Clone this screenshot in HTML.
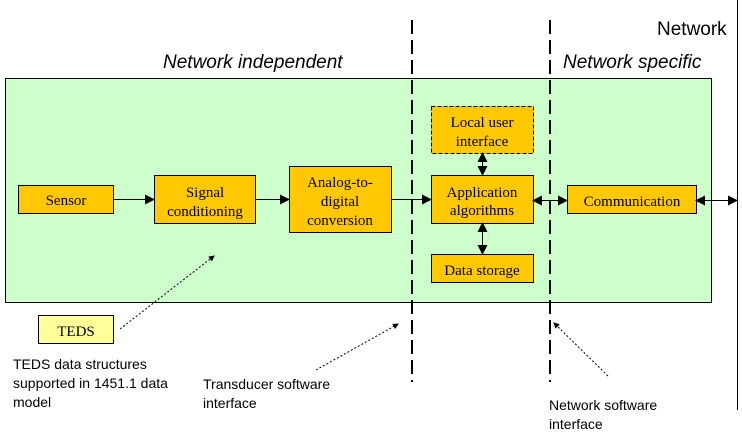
<!DOCTYPE html>
<html><head><style>body{margin:0;background:#fff}svg{display:block}</style></head><body>
<svg width="742" height="432" viewBox="0 0 742 432" xmlns="http://www.w3.org/2000/svg">
<defs>
<marker id="a" markerWidth="10" markerHeight="10" refX="9" refY="5" orient="auto-start-reverse" markerUnits="userSpaceOnUse"><path d="M0,0 L10,5 L0,10 z" fill="#000"/></marker>
<marker id="s" markerWidth="6" markerHeight="6" refX="5" refY="3" orient="auto" markerUnits="userSpaceOnUse"><path d="M0,0 L6,3 L0,6 z" fill="#000"/></marker>
</defs>
<rect x="5.5" y="78.5" width="706" height="224" fill="#ccffcc" stroke="#000"/>
<g font-family="Liberation Sans, sans-serif" font-size="19" fill="#000">
<text x="657" y="35">Network</text>
<text x="163" y="68" font-style="italic">Network independent</text>
<text x="563" y="68" font-style="italic">Network specific</text>
</g>
<g stroke="#000" stroke-width="2" stroke-dasharray="14,6">
<line x1="412" y1="20" x2="412" y2="382"/>
<line x1="550" y1="20" x2="550" y2="382"/>
</g>
<line x1="737.5" y1="0" x2="737.5" y2="410" stroke="#000"/>
<g fill="#ffc800" stroke="#000">
<rect x="18.5" y="185.5" width="95" height="28"/>
<rect x="154.5" y="175.5" width="101" height="48"/>
<rect x="289.5" y="166.5" width="102" height="66"/>
<rect x="431.5" y="106.5" width="102" height="47" stroke-dasharray="4,2"/>
<rect x="431.5" y="175.5" width="102" height="48"/>
<rect x="431.5" y="254.5" width="102" height="28"/>
<rect x="567.5" y="185.5" width="129" height="28"/>
</g>
<rect x="38.5" y="315.5" width="75" height="28" fill="#ffff99" stroke="#000"/>
<g stroke="#000" fill="none">
<line x1="113" y1="199.5" x2="154" y2="199.5" marker-end="url(#a)"/>
<line x1="255" y1="199.5" x2="289" y2="199.5" marker-end="url(#a)"/>
<line x1="391" y1="199.5" x2="431" y2="199.5" marker-end="url(#a)"/>
<line x1="533" y1="200.5" x2="567" y2="200.5" marker-start="url(#a)" marker-end="url(#a)"/>
<line x1="696" y1="200.5" x2="737" y2="200.5" marker-start="url(#a)" marker-end="url(#a)"/>
<line x1="482.5" y1="153" x2="482.5" y2="175" marker-start="url(#a)" marker-end="url(#a)"/>
<line x1="482.5" y1="223" x2="482.5" y2="254" marker-start="url(#a)" marker-end="url(#a)"/>
<g stroke-dasharray="2,2">
<line x1="120" y1="329" x2="214" y2="256" marker-end="url(#s)"/>
<line x1="316" y1="370" x2="398" y2="324" marker-end="url(#s)"/>
<line x1="608" y1="376" x2="554" y2="323" marker-end="url(#s)"/>
</g>
</g>
<g font-family="Liberation Serif, serif" font-size="15" fill="#000" text-anchor="middle">
<text x="66" y="205">Sensor</text>
<text x="205" y="197">Signal</text>
<text x="205" y="216">conditioning</text>
<text x="340" y="187">Analog-to-</text>
<text x="340" y="206">digital</text>
<text x="340" y="225">conversion</text>
<text x="482" y="127">Local user</text>
<text x="482" y="146">interface</text>
<text x="482" y="197">Application</text>
<text x="482" y="215">algorithms</text>
<text x="482" y="275">Data storage</text>
<text x="632" y="206">Communication</text>
<text x="76" y="336">TEDS</text>
</g>
<g font-family="Liberation Sans, sans-serif" font-size="14" fill="#000">
<text x="13" y="369">TEDS data structures</text>
<text x="13" y="388">supported in 1451.1 data</text>
<text x="13" y="407">model</text>
<text x="203" y="389">Transducer software</text>
<text x="203" y="408">interface</text>
<text x="549" y="410">Network software</text>
<text x="549" y="429">interface</text>
</g>
</svg>
</body></html>
